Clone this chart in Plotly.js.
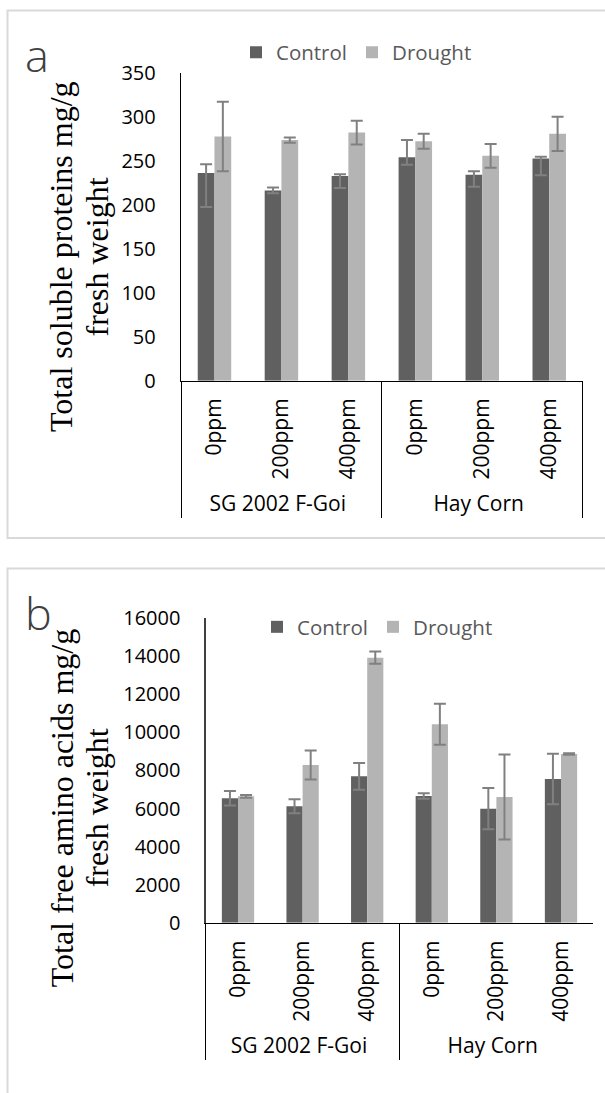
<!DOCTYPE html>
<html>
<head>
<meta charset="utf-8">
<script src="https://cdn.plot.ly/plotly-3.0.1.min.js"></script>
<style>html,body{margin:0;padding:0;background:#fff;}#chart{width:605px;height:1093px;}</style>
</head>
<body>
<div id="chart"></div>
<script>
// ---- data ----
const groups = ["SG 2002 F-Goi", "SG 2002 F-Goi", "SG 2002 F-Goi", "Hay Corn", "Hay Corn", "Hay Corn"];
const doses = ["0ppm", "200ppm", "400ppm", "0ppm", "200ppm", "400ppm"];
const seriesNames = ["Control", "Drought"];

// Panel a: Total soluble proteins
const protControl = [236, 216, 232.5, 254, 234, 252.5];
const protControlErrPlus = [10, 3.5, 2, 19.5, 4, 2];
const protControlErrMinus = [38.5, 3, 13.5, 8.5, 13.5, 19];
const protDrought = [277.5, 273.5, 282, 272, 255.5, 280.5];
const protDroughtErr = [39.5, 3, 13.5, 8.5, 13.5, 19.5];

// Panel b: Total free amino acids
const aminoControl = [6535, 6115, 7690, 6656, 5990, 7549];
const aminoControlErr = [380, 370, 700, 140, 1080, 1330];
const aminoDrought = [6640, 8283, 13917, 10420, 6604, 8861];
const aminoDroughtErr = [70, 760, 320, 1075, 2230, 40];

// ---- helpers ----
const W = 605, H = 1093;
const px = v => v / W;
const py = v => 1 - v / H;

const darkCol = 'rgb(96,96,96)';
const lightCol = 'rgb(180,180,180)';
const errStyle = {color: '#808080', thickness: 2, width: 6};
const x = [groups, doses];

const traces = [
  {type: 'bar', name: seriesNames[0], x: x, y: protControl, marker: {color: darkCol},
   error_y: Object.assign({type: 'data', symmetric: false, array: protControlErrPlus, arrayminus: protControlErrMinus}, errStyle),
   xaxis: 'x', yaxis: 'y', legend: 'legend'},
  {type: 'bar', name: seriesNames[1], x: x, y: protDrought, marker: {color: lightCol},
   error_y: Object.assign({type: 'data', array: protDroughtErr}, errStyle),
   xaxis: 'x', yaxis: 'y', legend: 'legend'},
  {type: 'bar', name: seriesNames[0], x: x, y: aminoControl, marker: {color: darkCol},
   error_y: Object.assign({type: 'data', array: aminoControlErr}, errStyle),
   xaxis: 'x2', yaxis: 'y2', legend: 'legend2'},
  {type: 'bar', name: seriesNames[1], x: x, y: aminoDrought, marker: {color: lightCol},
   error_y: Object.assign({type: 'data', array: aminoDroughtErr}, errStyle),
   xaxis: 'x2', yaxis: 'y2', legend: 'legend2'}
];

const tickFont = {family: 'Open Sans, sans-serif', size: 20, color: '#000'};
const xTickFont = {family: 'Open Sans, sans-serif', size: 21, color: '#000'};
const legFont = {family: 'Open Sans, sans-serif', size: 20.5, color: '#595959'};
const titleFont = {family: 'Liberation Serif, Times New Roman, serif', size: 32, color: '#000'};
const letterFont = {family: 'Open Sans, sans-serif', size: 45, color: '#404040', weight: 300};

function xAx(domain, anchor) {
  return {domain: domain, anchor: anchor, type: 'multicategory', showline: true, linecolor: '#000', linewidth: 1.3,
    ticks: '', tickangle: -90, tickfont: xTickFont, ticklabelstandoff: 8, showdividers: true, dividercolor: '#000', dividerwidth: 1,
    showgrid: false, zeroline: false, fixedrange: true};
}
function yAx(domain, anchor, range, dtick, lc) {
  return {domain: domain, anchor: anchor, range: range, dtick: dtick, tick0: 0, tickformat: 'd', showline: true, linecolor: lc, linewidth: 1.3,
    ticks: '', ticklabelstandoff: 20, tickfont: tickFont, showgrid: false, zeroline: false, fixedrange: true};
}

const layout = {
  width: W, height: H, margin: {l: 0, r: 0, t: 0, b: 0},
  paper_bgcolor: '#fff', plot_bgcolor: '#fff',
  barmode: 'group', bargap: 0.5, bargroupgap: 0,
  xaxis: xAx([px(181), px(582.7)], 'y'),
  yaxis: yAx([py(380.7), py(72.7)], 'x', [0, 350], 50, '#000'),
  xaxis2: xAx([px(205.7), px(593.3)], 'y2'),
  yaxis2: yAx([py(922.8), py(618)], 'x2', [0, 16000], 2000, '#404040'),
  legend: {orientation: 'h', x: px(236), y: py(52.5), xanchor: 'left', yanchor: 'middle', font: legFont, bgcolor: 'rgba(0,0,0,0)'},
  legend2: {orientation: 'h', x: px(257), y: py(627), xanchor: 'left', yanchor: 'middle', font: legFont, bgcolor: 'rgba(0,0,0,0)'},
  shapes: [
    {type: 'rect', xref: 'paper', yref: 'paper', x0: px(7.5), x1: px(640), y0: py(10.5), y1: py(538), line: {color: '#d9d9d9', width: 2}, fillcolor: 'rgba(0,0,0,0)'},
    {type: 'rect', xref: 'paper', yref: 'paper', x0: px(7.5), x1: px(640), y0: py(568.5), y1: py(1120), line: {color: '#d9d9d9', width: 2}, fillcolor: 'rgba(0,0,0,0)'}
  ],
  annotations: [
    {text: 'a', xref: 'paper', yref: 'paper', x: px(36.5), y: py(54.6), xanchor: 'center', yanchor: 'middle', showarrow: false, font: letterFont},
    {text: 'b', xref: 'paper', yref: 'paper', x: px(38.5), y: py(612.5), xanchor: 'center', yanchor: 'middle', showarrow: false, font: letterFont},
    {text: 'Total soluble proteins mg/g', xref: 'paper', yref: 'paper', x: px(61), y: py(257), xanchor: 'center', yanchor: 'middle', textangle: -90, showarrow: false, font: titleFont},
    {text: 'fresh weight', xref: 'paper', yref: 'paper', x: px(96.5), y: py(257), xanchor: 'center', yanchor: 'middle', textangle: -90, showarrow: false, font: titleFont},
    {text: 'Total free amino acids mg/g', xref: 'paper', yref: 'paper', x: px(61.5), y: py(807.8), xanchor: 'center', yanchor: 'middle', textangle: -90, showarrow: false, font: titleFont},
    {text: 'fresh weight', xref: 'paper', yref: 'paper', x: px(96.5), y: py(807.8), xanchor: 'center', yanchor: 'middle', textangle: -90, showarrow: false, font: titleFont}
  ]
};

Plotly.newPlot('chart', traces, layout, {displayModeBar: false, staticPlot: true});
</script>
</body>
</html>
